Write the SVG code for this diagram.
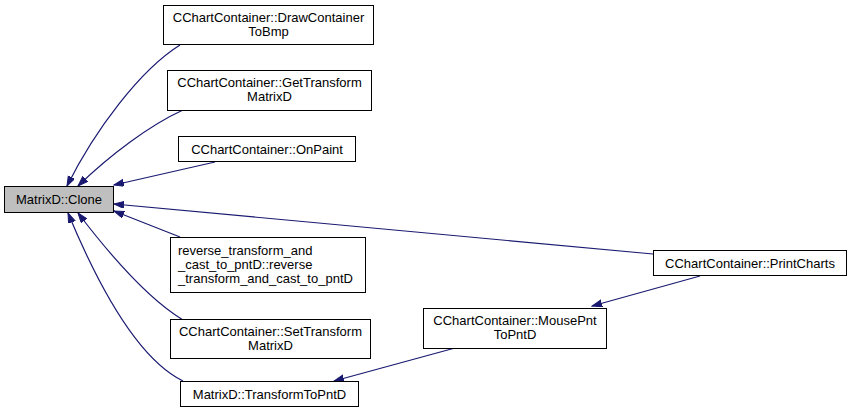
<svg xmlns="http://www.w3.org/2000/svg" width="851" height="416" viewBox="0 0 851 416">
<style>
.n rect{fill:#ffffff;stroke:#000000;stroke-width:1}
.n.hl rect{fill:#bfbfbf}
.n text{font-family:"Liberation Sans",Arial,sans-serif;font-size:13px;fill:#000000;text-anchor:middle}
.n text.l{text-anchor:start}
.e path{fill:none;stroke:#191970;stroke-width:1.2}
</style>
<defs>
<marker id="ah" markerUnits="userSpaceOnUse" markerWidth="11" markerHeight="8" refX="10" refY="3.5" orient="auto">
<path d="M0,0 L10,3.5 L0,7 Z" fill="#191970" stroke="#191970" stroke-width="1"/>
</marker>
</defs>
<rect width="851" height="416" fill="#ffffff"/>
<g id="connectors" class="e">
<path marker-end="url(#ah)" d="M180,45 C140,70 95,130 67,186"/>
<path marker-end="url(#ah)" d="M183,110 C150,125 110,155 78,186"/>
<path marker-end="url(#ah)" d="M215,162 L114,185"/>
<path marker-end="url(#ah)" d="M653,254 L114,204"/>
<path marker-end="url(#ah)" d="M180,237 L114,211"/>
<path marker-end="url(#ah)" d="M183,320 C150,300 110,255 78,213"/>
<path marker-end="url(#ah)" d="M183,381 C140,360 100,290 68,213"/>
<path marker-end="url(#ah)" d="M700,276 L592,306"/>
<path marker-end="url(#ah)" d="M455,348 L334,381"/>
</g>
<g id="clone" class="n hl"><rect x="4.5" y="186.5" width="109" height="26"/><text x="59" y="204">MatrixD::Clone</text></g>
<g id="drawcontainer" class="n"><rect x="163.5" y="5.5" width="210" height="39"/><text x="268.5" y="22">CChartContainer::DrawContainer</text><text x="268.5" y="36">ToBmp</text></g>
<g id="gettransform" class="n"><rect x="167.5" y="70.5" width="204" height="40"/><text x="269.5" y="87">CChartContainer::GetTransform</text><text x="269.5" y="101">MatrixD</text></g>
<g id="onpaint" class="n"><rect x="178.5" y="136.5" width="177" height="25"/><text x="267" y="153.5">CChartContainer::OnPaint</text></g>
<g id="reverse" class="n"><rect x="170.5" y="237.5" width="195" height="55"/><text class="l" x="178" y="255">reverse_transform_and</text><text class="l" x="178" y="269">_cast_to_pntD::reverse</text><text class="l" x="178" y="283">_transform_and_cast_to_pntD</text></g>
<g id="settransform" class="n"><rect x="170.5" y="319.5" width="200" height="39"/><text x="270.5" y="336">CChartContainer::SetTransform</text><text x="270.5" y="350">MatrixD</text></g>
<g id="transformtopntd" class="n"><rect x="180.5" y="381.5" width="178" height="25"/><text x="269.5" y="398.5">MatrixD::TransformToPntD</text></g>
<g id="mousepnt" class="n"><rect x="423.5" y="308.5" width="183" height="40"/><text x="515" y="325">CChartContainer::MousePnt</text><text x="515" y="339">ToPntD</text></g>
<g id="printcharts" class="n"><rect x="653.5" y="250.5" width="193" height="25"/><text x="750" y="267.5">CChartContainer::PrintCharts</text></g>
</svg>
